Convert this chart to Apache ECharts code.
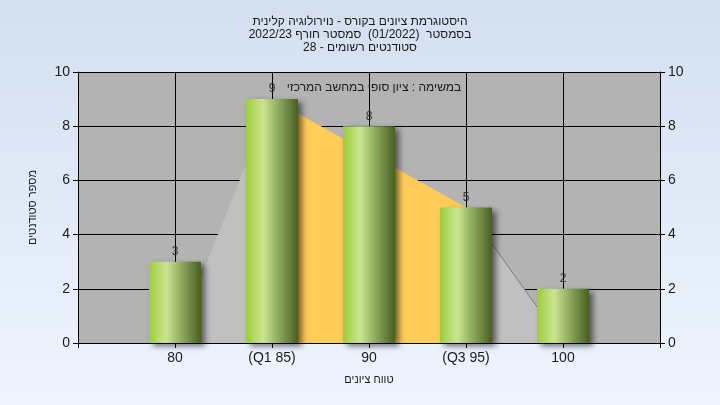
<!DOCTYPE html>
<html>
<head>
<meta charset="utf-8">
<script src="https://cdn.jsdelivr.net/npm/echarts@6/dist/echarts.min.js"></script>
<style>html,body{margin:0;padding:0;}#c{width:720px;height:405px;}</style>
</head>
<body>
<div id="c"></div>
<script>
// ---- data ----
const titleLines = ['היסטוגרמת ציונים בקורס - נוירולוגיה קלינית', 'בסמסטר  (01/2022)  סמסטר חורף 2022/23', 'סטודנטים רשומים - 28'];
const subtitle = 'במשימה : ציון סופי במחשב המרכזי';
const xName = 'טווח ציונים';
const yName = 'מספר סטודנטים';
const grades = [80, 85, 90, 95, 100];
const gradeLabels = ['80', '(Q1 85)', '90', '(Q3 95)', '100'];
const counts = [3, 9, 8, 5, 2];
// background distribution shape (min -> Q1 -> Q3 -> max)
const shapeX = [80, 85, 95, 100];
const shapeY = [0, 9, 5, 0];
const q1 = 85;
const q3 = 95;
const yTicks = [0, 2, 4, 6, 8, 10];

const pts = grades.map((g, i) => [g, counts[i]]);
const shapePts = shapeX.map((x, i) => [x, shapeY[i]]);
const iqrPts = shapePts.filter(p => p[0] >= q1 && p[0] <= q3);
const tailPts = shapePts.filter(p => p[0] >= q3);

const chart = echarts.init(document.getElementById('c'));
const fontFam = '"Liberation Sans", Arial, sans-serif';
const yAxisCommon = {
  type: 'value', min: yTicks[0], max: yTicks[yTicks.length - 1], interval: 2,
  axisLine: { show: true, lineStyle: { color: '#000', width: 1 } },
  axisTick: { show: true, length: 5, lineStyle: { color: '#000' } },
  axisLabel: { color: '#1a1a1a', fontSize: 14, fontFamily: fontFam, margin: 8 }
};
chart.setOption({
  backgroundColor: { type: 'linear', x: 0, y: 0, x2: 0, y2: 1,
    colorStops: [{ offset: 0, color: '#d3dff0' }, { offset: 1, color: '#eef5fe' }] },
  animation: false,
  title: [
    { text: titleLines.join('\n'), left: 'center', top: 10,
      textStyle: { fontSize: 12, fontWeight: 'normal', color: '#1a1a1a', fontFamily: fontFam, lineHeight: 13 } },
    { text: subtitle, left: 369, textAlign: 'center', top: 77,
      textStyle: { fontSize: 12, fontWeight: 'normal', color: '#1a1a1a', fontFamily: fontFam } }
  ],
  grid: { left: 78, right: 60, top: 72, bottom: 62, show: true, backgroundColor: '#b3b3b3', borderWidth: 0 },
  xAxis: {
    type: 'value', min: 75, max: 105, interval: 5,
    name: xName, nameLocation: 'middle', nameGap: 31,
    nameTextStyle: { fontSize: 11, color: '#1a1a1a', fontFamily: fontFam },
    axisLine: { show: true, onZero: false, lineStyle: { color: '#000', width: 1 } },
    axisTick: { show: true, length: 5, lineStyle: { color: '#000' } },
    axisLabel: { color: '#1a1a1a', fontSize: 14, fontFamily: fontFam, margin: 8,
      formatter: v => { const i = grades.indexOf(v); return i >= 0 ? gradeLabels[i] : ''; } },
    splitLine: { show: true, lineStyle: { color: '#000', width: 1 } }
  },
  yAxis: [
    Object.assign({}, yAxisCommon, {
      position: 'left', name: yName, nameLocation: 'middle', nameGap: 40, nameRotate: 90,
      nameTextStyle: { fontSize: 11, color: '#1a1a1a', fontFamily: fontFam },
      splitLine: { show: true, lineStyle: { color: '#000', width: 1 } }
    }),
    Object.assign({}, yAxisCommon, { position: 'right', splitLine: { show: false } })
  ],
  series: [
    { type: 'line', data: shapePts, symbol: 'none', z: 1,
      lineStyle: { width: 0 }, areaStyle: { color: '#c0c0c0', opacity: 1 } },
    { type: 'line', data: iqrPts, symbol: 'none', z: 2,
      lineStyle: { width: 0 }, areaStyle: { color: '#ffcc57', opacity: 1 } },
    { type: 'line', data: tailPts, symbol: 'none', z: 3,
      lineStyle: { width: 1, color: '#7a7a7a' } },
    { type: 'bar', data: pts, barWidth: 52, z: 4,
      itemStyle: {
        color: { type: 'linear', x: 0, y: 0, x2: 1, y2: 0, colorStops: [
          { offset: 0, color: '#9dcd3c' },
          { offset: 0.33, color: '#cbe592' },
          { offset: 0.65, color: '#8aa45a' },
          { offset: 1, color: '#485f20' } ] },
        shadowColor: 'rgba(0,0,0,0.55)', shadowBlur: 6, shadowOffsetX: 4, shadowOffsetY: 3
      },
      label: { show: true, position: 'top', distance: 4, color: '#333', fontSize: 12, fontFamily: fontFam,
        formatter: p => p.value[1] }
    }
  ]
});
</script>
</body>
</html>
